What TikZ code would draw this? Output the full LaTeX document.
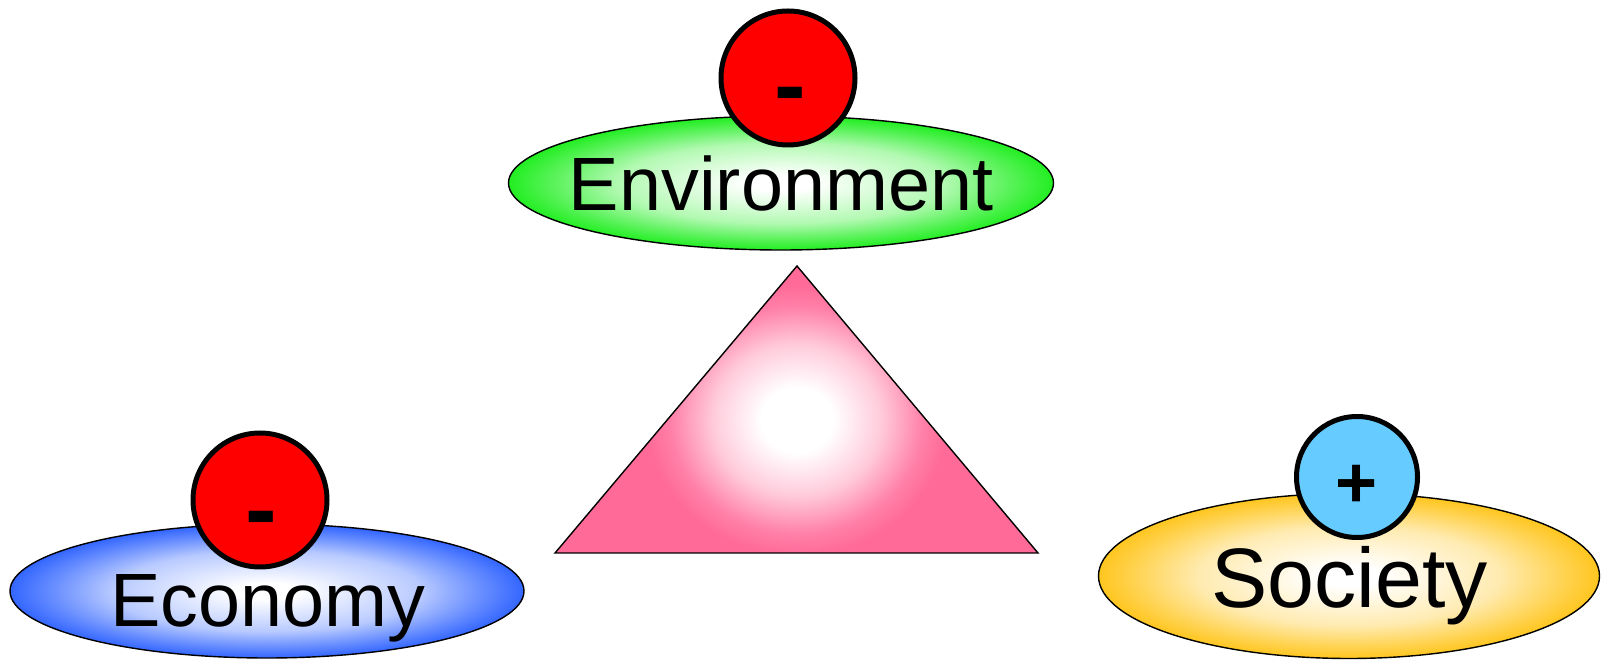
\documentclass[tikz,border=0pt]{standalone}
\usepackage{fontspec}
\setmainfont{Liberation Sans}
\usetikzlibrary{shapes.geometric}

\definecolor{envgreen}{HTML}{22EE22}
\definecolor{ecoblue}{HTML}{3366FF}
\definecolor{socyellow}{HTML}{FFC61F}
\definecolor{minusred}{HTML}{FF0000}
\definecolor{plusblue}{HTML}{66CCFF}
\definecolor{tripink}{HTML}{FF6A99}

% white core, colour towards the rim (rim of the path sits at 25bp)
\pgfdeclareradialshading{envglow}{\pgfpoint{0bp}{0bp}}{color(0bp)=(white); color(3bp)=(white); color(15bp)=(envgreen!35!white); color(21bp)=(envgreen!75!white); color(25bp)=(envgreen); color(50bp)=(envgreen)}
\pgfdeclareradialshading{ecoglow}{\pgfpoint{0bp}{0bp}}{color(0bp)=(white); color(3bp)=(white); color(15bp)=(ecoblue!35!white); color(21bp)=(ecoblue!75!white); color(25bp)=(ecoblue); color(50bp)=(ecoblue)}
\pgfdeclareradialshading{socglow}{\pgfpoint{0bp}{0bp}}{color(0bp)=(white); color(3bp)=(white); color(15bp)=(socyellow!35!white); color(21bp)=(socyellow!75!white); color(25bp)=(socyellow); color(50bp)=(socyellow)}
\pgfdeclareradialshading{triglow}{\pgfpoint{0bp}{0bp}}{color(0bp)=(white); color(6bp)=(white); color(14bp)=(tripink!35!white); color(21bp)=(tripink!85!white); color(25bp)=(tripink); color(50bp)=(tripink)}

\begin{document}
\begin{tikzpicture}[
        every node/.style={font=\fontsize{43}{50}\selectfont},
        blob/.style={ellipse, draw, line width=0.8pt, inner sep=0pt},
        ring/.style={circle, draw, line width=0.1cm, minimum size=2.68cm, inner sep=0pt},
        sign/.style={font=\bfseries\fontsize{54}{60}\selectfont, anchor=base}
    ]
    \useasboundingbox (0,0) rectangle (32.24,13.22);
%
    % Triangle in the middle
    \coordinate (peak) at (15.94, 7.9);
    \coordinate (baseL) at (11.1, 2.16);
    \coordinate (baseR) at (20.76, 2.16);
    \fill[tripink] (peak) -- (baseL) -- (baseR) -- cycle;
    \begin{scope}
        \clip (peak) -- (baseL) -- (baseR) -- cycle;
        \shade[shading=triglow] (12.94, 2.12) rectangle (18.94, 7.52);
    \end{scope}
    \draw[line width=0.8pt] (peak) -- (baseL) -- (baseR) -- cycle;
%
    % Environment
    \node[blob, shading=envglow, minimum width=10.9cm, minimum height=2.68cm] (env) at (15.62, 9.56) {};
    \node[ring, fill=minusred] (envring) at (15.76, 11.66) {};
    \node[sign] (envsign) at (15.8, 10.86) {-};
    \node[anchor=base] (envtext) at (15.62, 9.0) {Environment};
%
    % Economy
    \node[blob, shading=ecoglow, minimum width=10.28cm, minimum height=2.68cm] (eco) at (5.34, 1.4) {};
    \node[ring, fill=minusred] (ecoring) at (5.2, 3.22) {};
    \node[sign] (ecosign) at (5.22, 2.38) {-};
    \node[anchor=base] (ecotext) at (5.36, 0.68) {Economy};
%
    % Society
    \node[blob, shading=socglow, minimum width=10.02cm, minimum height=3.3cm] (soc) at (26.98, 1.7) {};
    \node[ring, fill=plusblue, minimum size=2.42cm] (socring) at (27.14, 3.68) {};
    \node[sign, font=\bfseries\fontsize{41}{48}\selectfont] (socsign) at (27.14, 3.06) {+};
    \node[anchor=base, font=\fontsize{48}{56}\selectfont] (soctext) at (26.99, 1.06) {Society};
%
\end{tikzpicture}
\end{document}
